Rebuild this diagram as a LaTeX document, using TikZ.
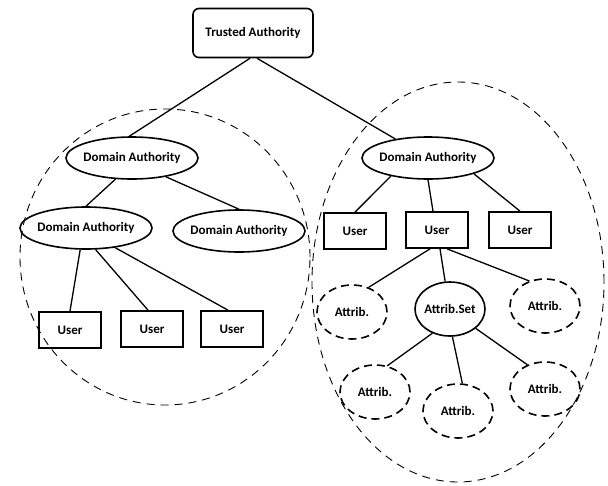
\documentclass[tikz,border=0pt]{standalone}
\usepackage{fontspec}
\setmainfont{Carlito}
\usetikzlibrary{shapes.geometric}
\begin{document}
\begin{tikzpicture}[x=1pt,y=-1pt,
  lbl/.style={font=\bfseries\fontsize{13}{15}\selectfont, inner sep=0pt},
  tabox/.style={lbl, draw, line width=1.6pt, rounded corners=6pt, minimum width=120pt, minimum height=49pt},
  userbox/.style={lbl, draw, line width=1.7pt, minimum width=62pt, minimum height=36pt},
  daell/.style={lbl, draw, ellipse, line width=1.6pt, inner xsep=-2pt, minimum width=132pt, minimum height=42pt},
  setell/.style={lbl, draw, ellipse, line width=1.6pt, inner xsep=-2.5pt, minimum width=70pt, minimum height=54pt},
  attell/.style={lbl, draw, ellipse, line width=1.6pt, dash pattern=on 8pt off 5pt, minimum width=70pt, minimum height=54pt},
  region/.style={draw, line width=0.9pt, dash pattern=on 8pt off 6pt},
  link/.style={draw, line width=1.3pt}]
\useasboundingbox (0,0) rectangle (608,485);
% domain regions
\draw[region] (165,257) ellipse [x radius=145pt, y radius=148pt];
\draw[region] (458,282) ellipse [x radius=146pt, y radius=200pt];
% nodes
\node[tabox] (ta) at (253,33) {Trusted Authority};
\node[daell] (da1) at (132,158) {Domain Authority};
\node[daell] (da2) at (86,228) {Domain Authority};
\node[daell] (da3) at (239,231) {Domain Authority};
\node[daell] (da4) at (428,158) {Domain Authority};
\node[userbox] (u1) at (70,330) {User};
\node[userbox] (u2) at (152,329) {User};
\node[userbox] (u3) at (232,329) {User};
\node[userbox] (u4) at (355,231) {User};
\node[userbox] (u5) at (437,230) {User};
\node[userbox] (u6) at (520,230) {User};
\node[attell] (a1) at (352,312) {Attrib.};
\node[setell] (as) at (450,309) {Attrib.Set};
\node[attell] (a2) at (545,306) {Attrib.};
\node[attell] (a3) at (375,392) {Attrib.};
\node[attell] (a4) at (458,411) {Attrib.};
\node[attell] (a5) at (545,389) {Attrib.};
% connectors
\draw[link] ([xshift=-3pt]ta.south) -- (da1.97);
\draw[link] ([xshift=4pt]ta.south) -- (da4);
\draw[link] (da1.232) -- (da2.north);
\draw[link] (da1.331) -- (da3.north);
\draw[link] (da2.255) -- (u1.north);
\draw[link] (da2.294) -- ([xshift=-4pt]u2.north);
\draw[link] (da2.326) -- ([xshift=-4pt]u3.north);
\draw[link] (da4.206) -- (u4.north);
\draw[link] (da4.south) -- ([xshift=-4pt]u5.north);
\draw[link] (da4.341) -- (u6.north);
\draw[link] ([xshift=-7pt]u5.south) -- (a1.56);
\draw[link] ([xshift=3pt]u5.south) -- (as.100);
\draw[link] ([xshift=10pt]u5.south) -- (a2.122);
\draw[link] (as.234) -- (a3.65);
\draw[link] (as.275) -- (a4.81);
\draw[link] (as.323) -- (a5.126);
\end{tikzpicture}
\end{document}
